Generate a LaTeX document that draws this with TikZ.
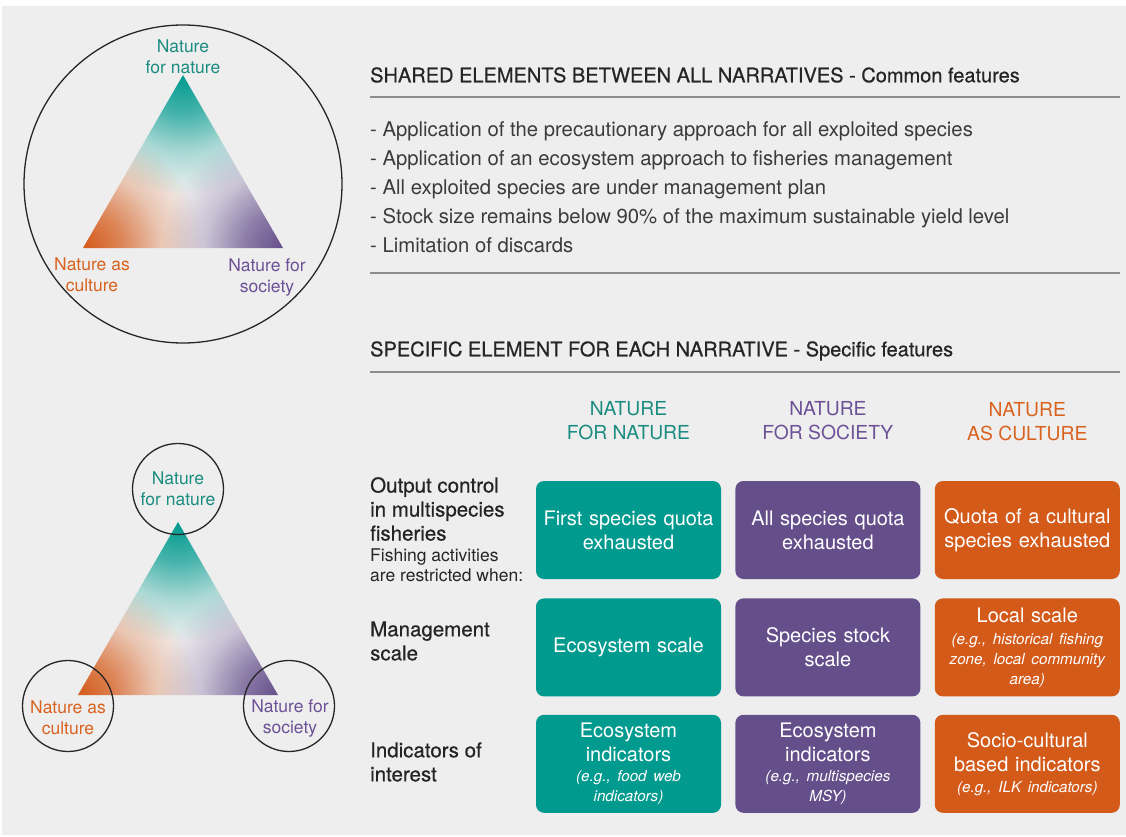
\documentclass[tikz,border=0pt]{standalone}
\usepackage{fontspec}
\setmainfont{TeX Gyre Heros}
\newfontfamily\mediumfont[FakeBold=0.6]{TeX Gyre Heros}
\usepackage{tikz}
\usetikzlibrary{positioning,fadings}
\definecolor{nnteal}{HTML}{009A8F}
\definecolor{nsviolet}{HTML}{654F8B}
\definecolor{naorange}{HTML}{D45A1A}
\definecolor{nntext}{HTML}{1B8C80}
\definecolor{nstext}{HTML}{6C5196}
\definecolor{natext}{HTML}{D9621F}
\definecolor{panelgrey}{HTML}{EEEEEE}
\definecolor{trimiddle}{HTML}{F3F3F3}
\definecolor{rulegrey}{HTML}{8A8D88}
\definecolor{inkgrey}{HTML}{252525}
\newcommand{\exnote}[1]{{\fontsize{15.2}{20}\selectfont\itshape #1}}
\pgfdeclareradialshading{vertexramp}{\pgfpointorigin}{color(0bp)=(white); color(8bp)=(white!72!black); color(16bp)=(white!30!black); color(25bp)=(black); color(50bp)=(black)}
\pgfdeclarefading{vertexfade}{\pgfuseshading{vertexramp}}
\tikzset{
  cellbox/.style={
    rectangle,
    rounded corners=8pt,
    minimum width=185pt,
    minimum height=98pt,
    text width=180pt,
    inner sep=0pt,
    align=center,
    text=white,
    font=\fontsize{20}{24}\selectfont
  },
  cellteal/.style={cellbox, fill=nnteal},
  cellviolet/.style={cellbox, fill=nsviolet},
  cellorange/.style={cellbox, fill=naorange},
  colhead/.style={align=center, inner sep=0pt, font=\fontsize{19.3}{24}\selectfont},
  rowlabel/.style={align=left, inner sep=0pt, anchor=west, text=inkgrey, font=\mediumfont\fontsize{20.5}{24}\selectfont},
  rownote/.style={align=left, inner sep=0pt, text=inkgrey, font=\fontsize{17.5}{20}\selectfont},
  sectionhead/.style={anchor=west, inner sep=0pt, text=inkgrey, font=\mediumfont\fontsize{20}{24}\selectfont},
  bulletlist/.style={align=left, inner sep=0pt, text=inkgrey!90, font=\fontsize{20.3}{29}\selectfont},
  sectionrule/.style={draw=rulegrey, line width=1.2pt},
  ringline/.style={draw=black!85, line width=1.3pt},
  vertexlabel/.style={align=center, inner sep=0pt, font=\fontsize{17.5}{21}\selectfont},
  narrtri/.pic={
    \coordinate (-apex) at (0,0);
    \coordinate (-left) at (-100,173);
    \coordinate (-right) at (100,173);
    \begin{scope}
      \clip (-apex) -- (-left) -- (-right) -- cycle;
      \fill[trimiddle] (-100,0) rectangle (100,173);
      \fill[nnteal, path fading=vertexfade] (-apex) circle (120pt);
      \fill[naorange, path fading=vertexfade] (-left) circle (120pt);
      \fill[nsviolet, path fading=vertexfade] (-right) circle (120pt);
    \end{scope}
  }
}
\begin{document}
\begin{tikzpicture}[x=1pt, y=-1pt]
\useasboundingbox (0,0) rectangle (1126,837);
\fill[white] (0,0) rectangle (1126,837);
\fill[panelgrey] (2,6) rectangle (1126,835);
% shared narratives triangle
\draw[ringline] (183,184) circle (159pt);
\pic (upper) at (183,75) {narrtri};
\node[vertexlabel, text=nntext, above=1.5pt of upper-apex] (uNN) {Nature\\for nature};
\node[vertexlabel, text=natext, below=10pt of upper-left, xshift=9pt] (uNA) {Nature as\\culture};
\node[vertexlabel, text=nstext, below=10pt of upper-right, xshift=-16pt] (uNS) {Nature for\\society};
% specific narratives triangle
\pic (lower) at (178,522) {narrtri};
\node[ringline, circle, minimum size=91pt, inner sep=0pt] (cNN) at ([yshift=33pt]lower-apex) {};
\node[ringline, circle, minimum size=91pt, inner sep=0pt] (cNA) at ([xshift=-10pt, yshift=-11pt]lower-left) {};
\node[ringline, circle, minimum size=91pt, inner sep=0pt] (cNS) at ([xshift=11pt, yshift=-11pt]lower-right) {};
\node[vertexlabel, text=nntext] (lNN) at (cNN.center) {Nature\\for nature};
\node[vertexlabel, text=natext] (lNA) at ([yshift=-12pt]cNA.center) {Nature as\\culture};
\node[vertexlabel, text=nstext] (lNS) at ([xshift=1pt, yshift=-12pt]cNS.center) {Nature for\\society};
% common features
\node[sectionhead] (shared) at (370,75) {SHARED ELEMENTS BETWEEN ALL NARRATIVES - Common features};
\draw[sectionrule] (370,97) -- (1120,97);
\node[bulletlist, anchor=north west] (sharedlist) at (370,121) {- Application of the precautionary approach for all exploited species\\- Application of an ecosystem approach to fisheries management\\- All exploited species are under management plan\\- Stock size remains below 90\% of the maximum sustainable yield level\\- Limitation of discards};
\draw[sectionrule] (370,273) -- (1120,273);
% specific features
\node[sectionhead] (specific) at (370,351) {SPECIFIC ELEMENT FOR EACH NARRATIVE - Specific features};
\draw[sectionrule] (370,372) -- (1120,372);
\node[cellteal] (t1) at (628.5,530) {First species quota\\exhausted};
\node[cellviolet, right=14pt of t1] (v1) {All species quota\\exhausted};
\node[cellorange, right=14pt of v1] (o1) {Quota of a cultural\\species exhausted};
\node[cellteal, below=19pt of t1] (t2) {Ecosystem scale};
\node[cellviolet, right=14pt of t2] (v2) {Species stock\\scale};
\node[cellorange, right=14pt of v2] (o2) {Local scale\\[-2pt]\exnote{(e.g., historical fishing}\\[-4pt]\exnote{zone, local community}\\[-4pt]\exnote{area)}};
\node[cellteal, below=18pt of t2] (t3) {Ecosystem\\indicators\\[-4pt]\exnote{(e.g., food web}\\[-4pt]\exnote{indicators)}};
\node[cellviolet, right=14pt of t3] (v3) {Ecosystem\\indicators\\[-4pt]\exnote{(e.g., multispecies}\\[-4pt]\exnote{MSY)}};
\node[cellorange, right=14pt of v3] (o3) {Socio-cultural\\based indicators\\[-3pt]\exnote{(e.g., ILK indicators)}};
\node[colhead, text=nntext, above=41pt of t1] (hNN) {NATURE\\FOR NATURE};
\node[colhead, text=nstext, above=41pt of v1] (hNS) {NATURE\\FOR SOCIETY};
\node[colhead, text=natext, above=40pt of o1] (hNA) {NATURE\\AS CULTURE};
\node[rowlabel] (rowoutput) at (370,509) {Output control\\in multispecies\\fisheries};
\node[rownote, below=8pt of rowoutput.south west, anchor=north west] (rownote) {Fishing activities\\are restricted when:};
\node[rowlabel] (rowscale) at (370,641) {Management\\scale};
\node[rowlabel] (rowindic) at (370,762) {Indicators of\\interest};
\end{tikzpicture}
\end{document}
